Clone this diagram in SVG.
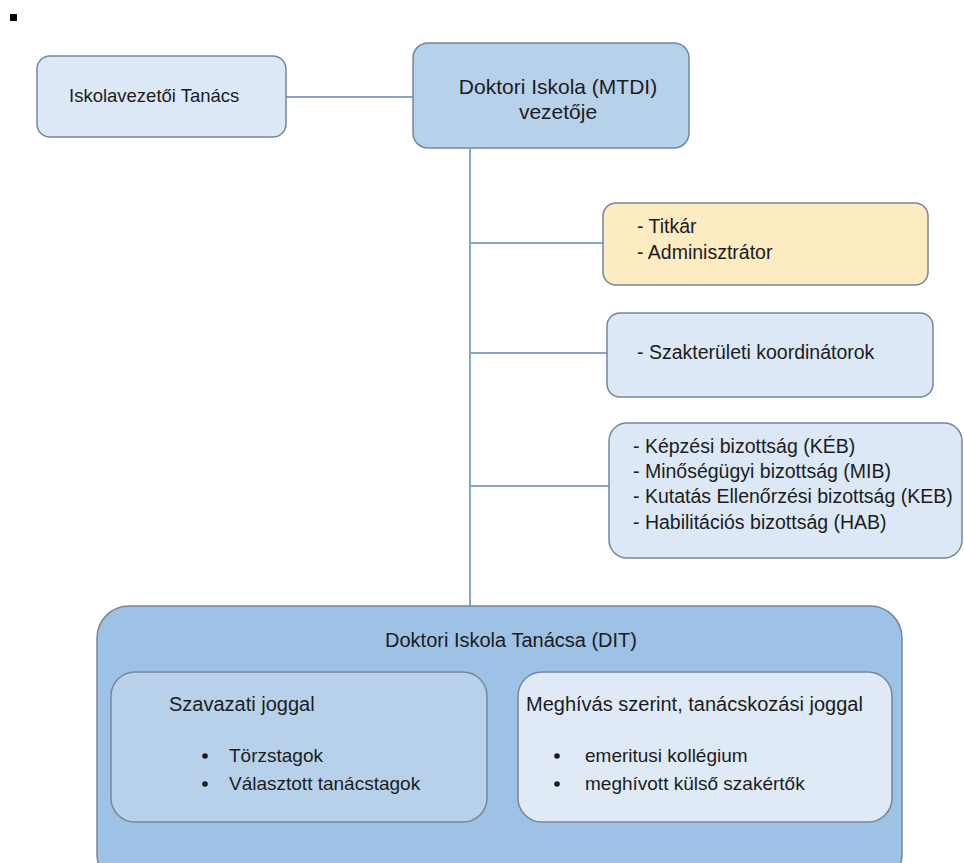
<svg xmlns="http://www.w3.org/2000/svg" width="964" height="863" viewBox="0 0 964 863">
<style>
.box{stroke:#76879a;stroke-width:1.5}
.light{fill:#dce8f5}
.mid{fill:#b8d1eb}
.dark{fill:#9dc2e5}
.yellow{fill:#fdebc2}
.pale{fill:#dfeaf6}
text{font-family:"Liberation Sans",Arial,sans-serif;font-size:19.5px;fill:#1c1c1c}
.t18{font-size:18.5px}
.t21{font-size:21px}
.t20{font-size:20px}
.t19{font-size:19px}
.c{text-anchor:middle}
.conn{stroke:#86a6c7;stroke-width:2;fill:none}
.dot{fill:#1c1c1c}
</style>
<rect x="10" y="14" width="7" height="7" fill="#000"/>
<g id="connectors">
<line class="conn" x1="286" y1="97" x2="413" y2="97"/>
<line class="conn" x1="470" y1="148" x2="470" y2="606"/>
<line class="conn" x1="470" y1="243" x2="603" y2="243"/>
<line class="conn" x1="470" y1="353" x2="607" y2="353"/>
<line class="conn" x1="470" y1="486" x2="609" y2="486"/>
</g>
<g id="iskolavezetoi">
<rect class="box light" x="37" y="56" width="249" height="81" rx="13"/>
<text class="t18" x="69" y="102">Iskolavezetői Tanács</text>
</g>
<g id="vezeto">
<rect class="box mid" x="413" y="43" width="276" height="105" rx="15"/>
<text class="t21 c" x="558" y="94">Doktori Iskola (MTDI)</text>
<text class="t21 c" x="558" y="119">vezetője</text>
</g>
<g id="titkar">
<rect class="box yellow" x="603" y="203" width="325" height="82" rx="13"/>
<text x="637" y="233">- Titkár</text>
<text x="637" y="259">- Adminisztrátor</text>
</g>
<g id="szakteruleti">
<rect class="box light" x="607" y="313" width="326" height="84" rx="13"/>
<text x="637" y="359">- Szakterületi koordinátorok</text>
</g>
<g id="bizottsagok">
<rect class="box light" x="609" y="423" width="353" height="135" rx="18"/>
<text x="633" y="453">- Képzési bizottság (KÉB)</text>
<text x="633" y="478">- Minőségügyi bizottság (MIB)</text>
<text x="633" y="503">- Kutatás Ellenőrzési bizottság (KEB)</text>
<text x="633" y="529">- Habilitációs bizottság (HAB)</text>
</g>
<g id="dit">
<rect class="box dark" x="97" y="606" width="805" height="280" rx="32"/>
<text class="t20 c" x="511" y="647">Doktori Iskola Tanácsa (DIT)</text>
</g>
<g id="szavazati">
<rect class="box mid" x="111" y="672" width="376" height="150" rx="24"/>
<text class="t20" x="169" y="711">Szavazati joggal</text>
<circle class="dot" cx="205" cy="756" r="2.8"/>
<text class="t19" x="229" y="762">Törzstagok</text>
<circle class="dot" cx="205" cy="784" r="2.8"/>
<text class="t19" x="229" y="790">Választott tanácstagok</text>
</g>
<g id="meghivas">
<rect class="box pale" x="518" y="672" width="374" height="150" rx="24"/>
<text class="t20" x="526" y="711">Meghívás szerint, tanácskozási joggal</text>
<circle class="dot" cx="557" cy="756" r="2.8"/>
<text class="t19" x="585" y="762">emeritusi kollégium</text>
<circle class="dot" cx="557" cy="784" r="2.8"/>
<text class="t19" x="585" y="790">meghívott külső szakértők</text>
</g>
</svg>
